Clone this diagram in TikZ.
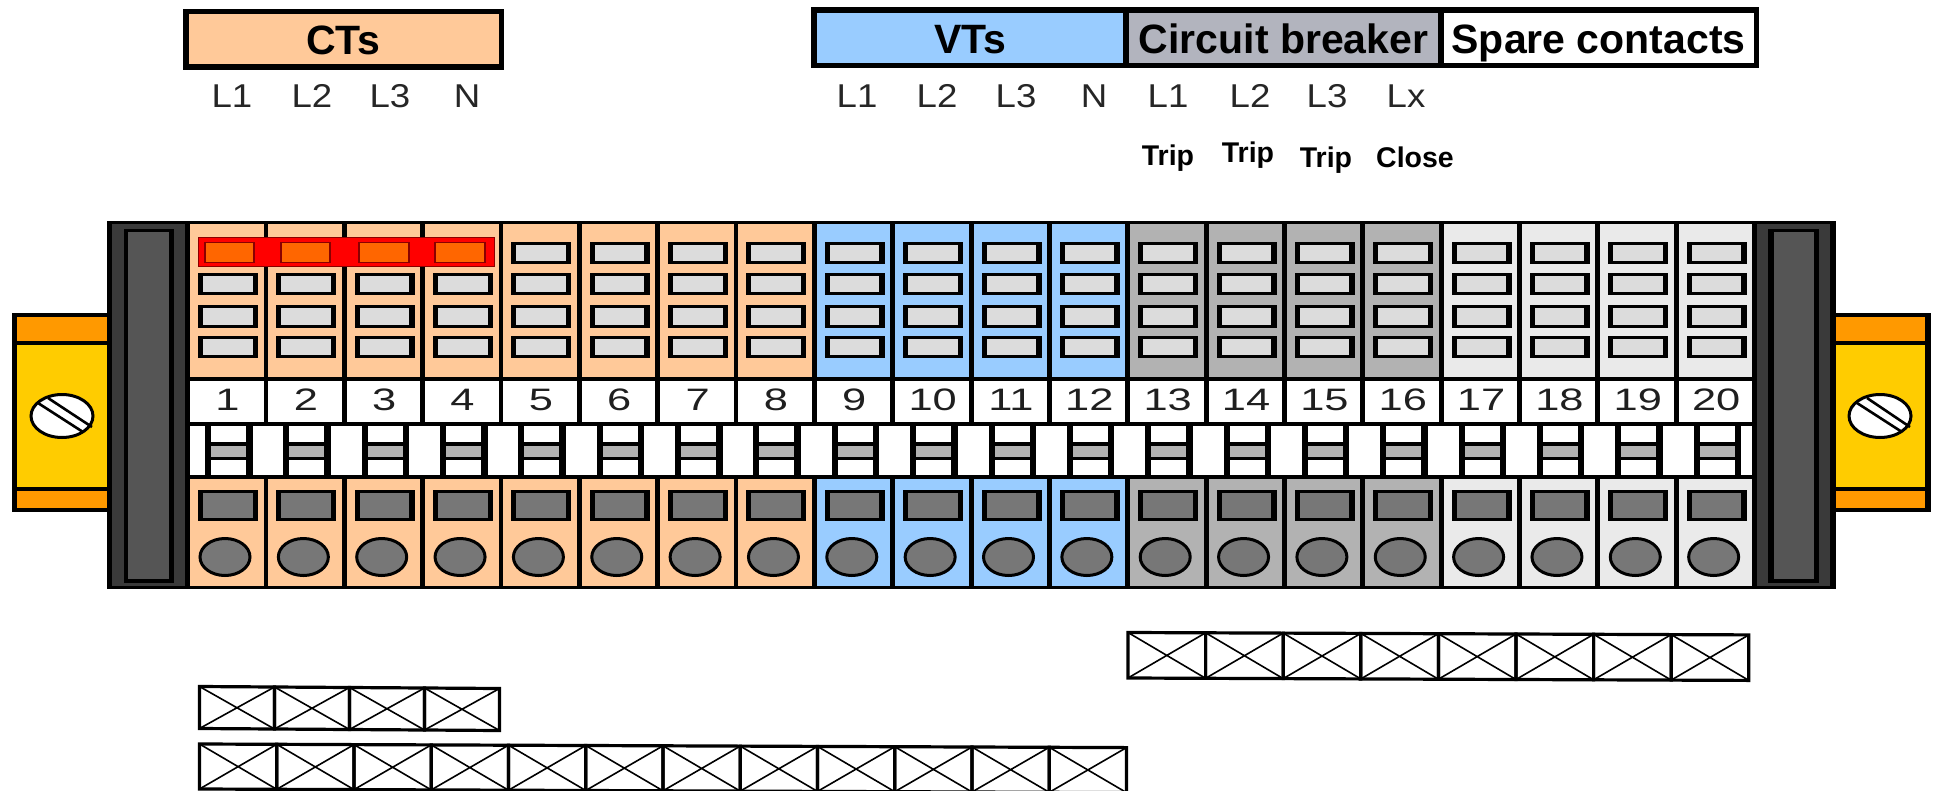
\documentclass[tikz,border=0pt]{standalone}
\usepackage{fontspec}
\setmainfont{Liberation Sans}
\newfontfamily\numfont[FakeStretch=1.4]{Liberation Sans}
\newfontfamily\phasefont[FakeStretch=1.11]{Liberation Sans}
\definecolor{ct}{HTML}{FFC999}
\definecolor{vt}{HTML}{99CCFF}
\definecolor{cb}{HTML}{B2B2B2}
\definecolor{sp}{HTML}{EAEAEA}
\definecolor{cbhead}{HTML}{B2B4BE}
\definecolor{win}{HTML}{DCDCDC}
\definecolor{dk}{HTML}{777777}
\definecolor{endfill}{HTML}{3A3A3A}
\definecolor{endin}{HTML}{555555}
\definecolor{rail}{HTML}{FF9900}
\definecolor{railin}{HTML}{FFCC00}
\definecolor{flap}{HTML}{FF6600}
\definecolor{flapedge}{HTML}{8A0000}
\tikzset{
  hdr/.style={draw=black,line width=5.5pt,inner sep=0pt,minimum height=55.5pt,
    font=\fontsize{41}{41}\selectfont\bfseries,text height=31pt,text depth=0pt},
  phase/.style={anchor=base,inner sep=0pt,text=black!85,font=\fontsize{33}{33}\phasefont},
  duty/.style={anchor=base,inner sep=0pt,font=\fontsize{28.5}{28.5}\selectfont\bfseries},
  num/.style={anchor=base,inner sep=0pt,text=black!88,font=\fontsize{31}{31}\numfont},
  screwface/.style={draw=black,line width=3pt,fill=white},
  slot/.style={draw=black,line width=2.6pt},
  terminal/.style={draw=black,line width=3pt,fill=dk},
  xout/.style={draw=black,line width=3.2pt,line join=miter},
  xcross/.style={draw=black,line width=1.6pt}
}
% row of crossed cells: x0, cell width, top y at x0, cell height, slope, count
\newcommand{\crossrow}[6]{%
  \foreach \i in {1,...,#6}{%
    \pgfmathsetmacro\xa{#1+#2*(\i-1)}
    \pgfmathsetmacro\xb{#1+#2*\i}
    \pgfmathsetmacro\ya{#3+#5*(\i-1)}
    \pgfmathsetmacro\yb{#3+#5*\i}
    \draw[xcross] (\xa,\ya) -- (\xb,\yb+#4) (\xa,\ya+#4) -- (\xb,\yb);
    \draw[xout] (\xa,\ya) -- (\xb,\yb) -- (\xb,\yb+#4) -- (\xa,\ya+#4) -- cycle;
  }%
}
\begin{document}
\begin{tikzpicture}[x=1pt,y=-1pt]
\useasboundingbox (0,0) rectangle (1933,790);
\fill[white] (0,0) rectangle (1933,790);

% DIN rail clamps
\fill[black] (12,313) rectangle (110,512);
\fill[rail] (16.5,317) rectangle (110,341);
\fill[railin] (16.5,345) rectangle (110,487);
\fill[rail] (16.5,491) rectangle (110,508);
\draw[screwface] (62,416) ellipse [x radius=31,y radius=21.5];
\draw[slot] (38,403) -- (83,432) (48,398) -- (92,427);

\fill[black] (1833,313) rectangle (1931,512);
\fill[rail] (1833,317) rectangle (1925,341);
\fill[railin] (1833,345) rectangle (1925,487);
\fill[rail] (1833,491) rectangle (1925,508);
\draw[screwface] (1880,416) ellipse [x radius=31,y radius=21.5];
\draw[slot] (1857,403) -- (1902,432) (1867,398) -- (1910,427);

% strip body
\fill[black] (107,221) rectangle (1836,589);
\fill[endfill] (112,224) rectangle (185,586);
\fill[black] (124,229) rectangle (174,583);
\fill[endin] (128,232) rectangle (169,579);
\fill[endfill] (1757,224) rectangle (1830,586);
\fill[black] (1768,229) rectangle (1819,583);
\fill[endin] (1774,232) rectangle (1814,579);
\fill[white] (190,426) rectangle (1752,475);

% terminals
\foreach \c [count=\n from 1] in {ct,ct,ct,ct,ct,ct,ct,ct,vt,vt,vt,vt,cb,cb,cb,cb,sp,sp,sp,sp}{
  \pgfmathsetmacro\xl{190+78.35*(\n-1)}
  \fill[\c] (\xl,224) rectangle (\xl+73.5,377);
  \fill[white] (\xl,381) rectangle (\xl+73.5,422);
  \fill[\c] (\xl,479) rectangle (\xl+73.5,586);
  % windows
  \foreach \ya/\yb in {242/264,273/295,305/328,336/358}{
    \fill[black] (\xl+8,\ya) rectangle (\xl+68,\yb);
    \fill[win] (\xl+13,\ya+3) rectangle (\xl+62.5,\yb-3);
  }
  % test link
  \fill[black] (\xl+15,426) rectangle (\xl+62.5,475);
  \fill[white] (\xl+21,426) rectangle (\xl+56,442);
  \fill[cb] (\xl+21,445.5) rectangle (\xl+56,456.5);
  \fill[white] (\xl+21,460) rectangle (\xl+56,475);
  % lower terminal
  \fill[black] (\xl+8,490) rectangle (\xl+68,521);
  \fill[dk] (\xl+13,493) rectangle (\xl+62.5,518);
  \draw[terminal] (\xl+35,557) ellipse [x radius=25,y radius=18.5];
  % number
  \node[num] (n\n) at (\xl+37.5,410.5) {\n};
}

% red shorting bar on the CT terminals
\draw[fill=red,draw=flapedge,line width=0.7pt] (198,237.5) rectangle (494,266.5);
\foreach \xa/\xb in {205/254,281/330,359/409,435/485}{
  \draw[fill=flap,draw=flapedge,line width=1.5pt] (\xa,242.5) rectangle (\xb,262.5);
}

% headers
\node[hdr,fill=ct,minimum width=315.5pt] (cts) at (343.5,39) {CTs};
\node[hdr,fill=vt,minimum width=311.8pt] (vts) at (970.1,37.5) {VTs};
\node[hdr,fill=cbhead,minimum width=315pt] (breaker) at (1283.5,37.5) {Circuit breaker};
\node[hdr,fill=white,minimum width=315.3pt] (spare) at (1598.6,37.5) {Spare contacts};

% phase labels
\node[phase] (c1) at (232,107) {L1};
\node[phase] (c2) at (312,107) {L2};
\node[phase] (c3) at (390,107) {L3};
\node[phase] (c4) at (467,107) {N};
\node[phase] (v1) at (857,107) {L1};
\node[phase] (v2) at (937,107) {L2};
\node[phase] (v3) at (1016,107) {L3};
\node[phase] (v4) at (1094,107) {N};
\node[phase] (b1) at (1168,107) {L1};
\node[phase] (b2) at (1250,107) {L2};
\node[phase] (b3) at (1327,107) {L3};
\node[phase] (b4) at (1406,107) {Lx};
\node[duty] (t1) at (1168,165) {Trip};
\node[duty] (t2) at (1248,162.5) {Trip};
\node[duty] (t3) at (1326,167.5) {Trip};
\node[duty] (t4) at (1415,167) {Close};

% crossed blanks
\crossrow{199.5}{75}{686.5}{42}{0.5}{4}
\crossrow{199.5}{77.25}{744}{45}{0.3}{12}
\crossrow{1128}{77.6}{632.5}{45.5}{0.3}{8}
\end{tikzpicture}
\end{document}
